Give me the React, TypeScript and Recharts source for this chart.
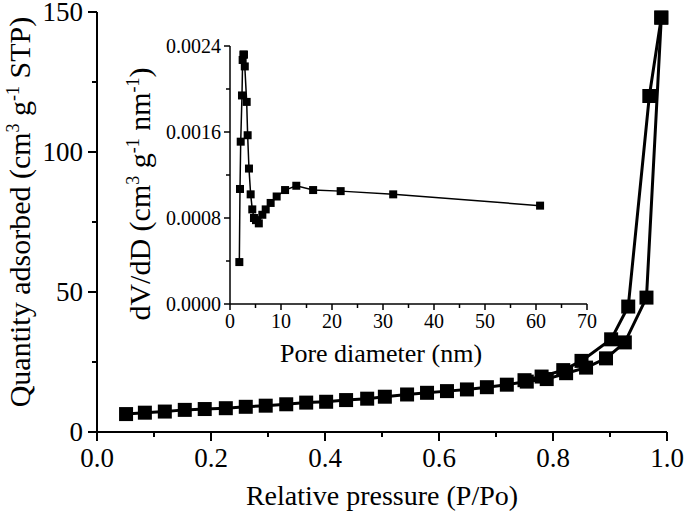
import React from 'react';
import { LineChart, Line, XAxis, YAxis } from 'recharts';

// isotherm, adsorption branch
const adsP = [0.051, 0.084, 0.119, 0.154, 0.189, 0.226, 0.261, 0.296, 0.332, 0.367, 0.402, 0.437, 0.474, 0.505, 0.544, 0.579, 0.614, 0.649, 0.684, 0.719, 0.754, 0.789, 0.823, 0.858, 0.893, 0.926, 0.964, 0.99];
const adsQ = [6.4, 6.9, 7.3, 7.9, 8.2, 8.5, 9.0, 9.4, 9.9, 10.5, 10.8, 11.4, 11.9, 12.6, 13.4, 14.0, 14.6, 15.2, 16.0, 16.9, 18.0, 18.9, 21.0, 23.0, 26.3, 32.0, 48.0, 148.0];

// desorption branch
const desP = [0.99, 0.969, 0.932, 0.902, 0.85, 0.818, 0.78, 0.75];
const desQ = [148.0, 120.0, 44.8, 33.1, 25.4, 22.1, 19.8, 18.5];

// pore size distribution (inset)
const poreD = [1.83, 1.96, 2.1, 2.35, 2.48, 2.62, 2.74, 2.9, 3.27, 3.46, 3.72, 4.05, 4.37, 4.7, 5.1, 5.65, 6.34, 7.0, 7.97, 9.15, 10.8, 13.0, 16.3, 21.7, 32.0, 60.8];
const poreV = [0.00039, 0.00107, 0.00151, 0.00194, 0.00227, 0.00232, 0.00232, 0.00221, 0.00188, 0.00157, 0.00126, 0.00102, 0.00088, 0.0008, 0.00078, 0.00075, 0.00083, 0.00088, 0.00094, 0.001, 0.00106, 0.0011, 0.00106, 0.00105, 0.00102, 0.000915];

const mainXTicks = [0, 0.1, 0.2, 0.3, 0.4, 0.5, 0.6, 0.7, 0.8, 0.9, 1.0];
const mainYTicks = [0, 25, 50, 75, 100, 125, 150];
const insetXTicks = [0, 5, 10, 15, 20, 25, 30, 35, 40, 45, 50, 55, 60, 65, 70];
const insetYTicks = [0, 0.0004, 0.0008, 0.0012, 0.0016, 0.002, 0.0024];

const FONT = "'Liberation Serif', 'Times New Roman', Tinos, 'DejaVu Serif', serif";

const adsData = adsP.map((p, i) => ({ p, q: adsQ[i] }));
const desData = desP.map((p, i) => ({ p, q: desQ[i] }));
const poreData = poreD.map((d, i) => ({ d, v: poreV[i] }));

type TickOpts = {
  side: 'x' | 'y';
  step: number;
  major: number;
  minor: number;
  offset: number;
  fontSize: number;
  digits: number;
  width: number;
};

function makeTick(o: TickOpts) {
  return (props: any) => {
    const { x, y, payload } = props;
    const v = payload.value;
    const isMajor = Math.abs(v / o.step - Math.round(v / o.step)) < 1e-6;
    const len = isMajor ? o.major : o.minor;
    const textStyle = { fontFamily: FONT, fontSize: o.fontSize };
    if (o.side === 'x') {
      return (
        <g>
          <line x1={x} y1={y} x2={x} y2={y + len} stroke="#000" strokeWidth={o.width} />
          {isMajor && (
            <text x={x} y={y + o.offset} textAnchor="middle" style={textStyle} fill="#000">
              {v.toFixed(o.digits)}
            </text>
          )}
        </g>
      );
    }
    return (
      <g>
        <line x1={x} y1={y} x2={x - len} y2={y} stroke="#000" strokeWidth={o.width} />
        {isMajor && (
          <text x={x - o.offset} y={y + o.fontSize * 0.34} textAnchor="end" style={textStyle} fill="#000">
            {v.toFixed(o.digits)}
          </text>
        )}
      </g>
    );
  };
}

function squareDot(size: number) {
  return (props: any) => {
    const { cx, cy, index } = props;
    if (cx == null || cy == null) return <g key={`n${index}`} />;
    return <rect key={`d${index}`} x={cx - size / 2} y={cy - size / 2} width={size} height={size} fill="#000" />;
  };
}

export default function App() {
  return (
    <div style={{ position: 'absolute', left: 0, top: 0, width: 685, height: 518, background: '#fff', fontFamily: FONT }}>
      <div style={{ position: 'absolute', left: 0, top: 0 }}>
        <LineChart width={685} height={518} margin={{ top: 12, right: 18, bottom: 0, left: 0 }}>
          <XAxis
            type="number"
            dataKey="p"
            domain={[0, 1]}
            ticks={mainXTicks}
            height={86}
            tickSize={0}
            tickMargin={0}
            tickLine={false}
            axisLine={{ stroke: '#000', strokeWidth: 2 }}
            tick={makeTick({ side: 'x', step: 0.2, major: 9, minor: 5, offset: 35, fontSize: 27, digits: 1, width: 2 })}
            interval={0}
          />
          <YAxis
            type="number"
            domain={[0, 150]}
            ticks={mainYTicks}
            width={97}
            tickSize={0}
            tickMargin={0}
            tickLine={false}
            axisLine={{ stroke: '#000', strokeWidth: 2 }}
            tick={makeTick({ side: 'y', step: 50, major: 9, minor: 5, offset: 14, fontSize: 27, digits: 0, width: 2 })}
            interval={0}
          />
          <Line
            data={adsData}
            dataKey="q"
            type="linear"
            stroke="#000"
            strokeWidth={3}
            dot={squareDot(14)}
            activeDot={false}
            isAnimationActive={false}
          />
          <Line
            data={desData}
            dataKey="q"
            type="linear"
            stroke="#000"
            strokeWidth={3}
            dot={squareDot(14)}
            activeDot={false}
            isAnimationActive={false}
          />
        </LineChart>
      </div>

      <div style={{ position: 'absolute', left: 140, top: 30 }}>
        <LineChart width={470} height={350} data={poreData} margin={{ top: 16, right: 23, bottom: 0, left: 0 }}>
          <XAxis
            type="number"
            dataKey="d"
            domain={[0, 70]}
            ticks={insetXTicks}
            height={76}
            tickSize={0}
            tickMargin={0}
            tickLine={false}
            axisLine={{ stroke: '#000', strokeWidth: 1.5 }}
            tick={makeTick({ side: 'x', step: 10, major: 6, minor: 4, offset: 24, fontSize: 20, digits: 0, width: 1.5 })}
            interval={0}
          />
          <YAxis
            type="number"
            domain={[0, 0.0024]}
            ticks={insetYTicks}
            width={90}
            tickSize={0}
            tickMargin={0}
            tickLine={false}
            axisLine={{ stroke: '#000', strokeWidth: 1.5 }}
            tick={makeTick({ side: 'y', step: 0.0008, major: 6, minor: 4, offset: 9, fontSize: 20, digits: 4, width: 1.5 })}
            interval={0}
          />
          <Line
            dataKey="v"
            type="linear"
            stroke="#000"
            strokeWidth={1.5}
            dot={squareDot(8)}
            activeDot={false}
            isAnimationActive={false}
          />
        </LineChart>
      </div>

      <svg width={685} height={518} style={{ position: 'absolute', left: 0, top: 0, pointerEvents: 'none', fontFamily: FONT }}>
        <text x={382} y={505} textAnchor="middle" fontSize={28} fill="#000">
          Relative pressure (P/Po)
        </text>
        <text transform="translate(30,212) rotate(-90)" textAnchor="middle" fontSize={30} fill="#000">
          Quantity adsorbed (cm
          <tspan dy={-11} fontSize={18}>3</tspan>
          <tspan dy={11}> g</tspan>
          <tspan dy={-11} fontSize={18}>-1</tspan>
          <tspan dy={11}> STP)</tspan>
        </text>
        <text x={381} y={362} textAnchor="middle" fontSize={26} fill="#000">
          Pore diameter (nm)
        </text>
        <text transform="translate(150,194) rotate(-90)" textAnchor="middle" fontSize={30} fill="#000">
          dV/dD (cm
          <tspan dy={-11} fontSize={18}>3</tspan>
          <tspan dy={11}> g</tspan>
          <tspan dy={-11} fontSize={18}>-1</tspan>
          <tspan dy={11}> nm</tspan>
          <tspan dy={-11} fontSize={18}>-1</tspan>
          <tspan dy={11}>)</tspan>
        </text>
      </svg>
    </div>
  );
}
